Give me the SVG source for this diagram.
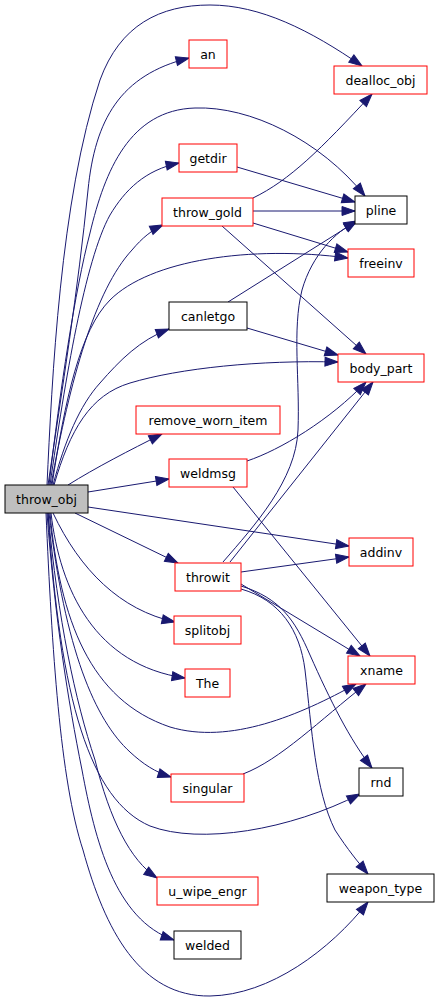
<svg xmlns="http://www.w3.org/2000/svg" width="440" height="1002" viewBox="0 0 440 1002">
<style>
.n rect{fill:#ffffff;stroke:#ff0000;stroke-width:1}
.n.b rect{stroke:#000000}
.n.root rect{fill:#bfbfbf;stroke:#000000}
.n text{font-family:"DejaVu Sans",sans-serif;font-size:12.5px;fill:#000000;text-anchor:middle}
#edges path{fill:none;stroke:#191970;stroke-width:1;marker-end:url(#arr)}
</style>
<defs>
<marker id="arr" markerUnits="userSpaceOnUse" markerWidth="14" markerHeight="10" refX="13" refY="4.5" orient="auto" overflow="visible">
<path d="M0,0 L13,4.5 L0,9 z" fill="#191970" stroke="#191970" stroke-width="1"/>
</marker>
</defs>
<rect width="440" height="1002" fill="#ffffff"/>
<g id="edges">
<path d="M47,485 C52,380 60,200 100,80 C120,25 160,5 210,5 C260,5 310,30 362,66"/>
<path d="M48,485 C62,390 78,290 88,190 C95,120 120,75 189,58"/>
<path d="M49,485 C60,390 75,290 90,233 C105,170 130,110 195,108 C250,106 320,140 365,196"/>
<path d="M50,485 C65,380 85,260 110,215 C125,190 145,170 179,163"/>
<path d="M51,485 C70,380 95,290 132,250 C142,238 152,230 163,225"/>
<path d="M52,485 C65,400 80,330 110,300 C150,260 250,245 348,258"/>
<path d="M53,485 C65,440 80,405 100,383 C120,360 140,340 169,329"/>
<path d="M54,485 C70,430 90,395 130,383 C180,368 260,360 338,362"/>
<path d="M68,485 C95,468 130,450 162,434"/>
<path d="M88,492 L169,479"/>
<path d="M88,507 L349,546"/>
<path d="M75,513 L178,563"/>
<path d="M53,513 C80,570 120,610 175,622"/>
<path d="M51,513 C60,590 95,665 185,678"/>
<path d="M50,513 C60,620 90,700 170,727 C230,745 300,715 356,684"/>
<path d="M49,513 C65,650 95,720 130,752 C143,764 155,772 171,777"/>
<path d="M48,513 C60,700 90,800 150,826 C200,845 290,830 360,794"/>
<path d="M48,513 C58,620 75,700 95,760 C110,820 130,860 157,878"/>
<path d="M47,513 C55,620 68,700 82,770 C95,840 115,920 174,940"/>
<path d="M46,513 C52,650 60,780 83,850 C105,930 140,997 210,996 C270,995 330,950 368,902"/>
<path d="M253,198 C290,180 320,150 372,94"/>
<path d="M237,167 L355,202"/>
<path d="M253,211 L355,211"/>
<path d="M253,223 L348,252"/>
<path d="M222,226 L366,354"/>
<path d="M228,302 L357,221"/>
<path d="M247,328 L338,355"/>
<path d="M247,461 C280,450 330,420 366,382"/>
<path d="M230,562 L373,382"/>
<path d="M223,562 C255,525 296,480 298,430 C300,380 292,330 302,290 C312,255 335,232 357,221"/>
<path d="M241,572 L349,557"/>
<path d="M241,584 L360,656"/>
<path d="M233,487 L370,656"/>
<path d="M241,586 C280,598 295,620 310,655 C330,700 350,740 372,768"/>
<path d="M241,589 C280,600 300,630 305,670 C312,730 315,790 335,830 C348,850 358,862 368,874"/>
<path d="M243,774 C280,760 320,720 366,684"/>
</g>
<g id="throw_obj" class="n root"><rect x="5" y="485" width="83" height="28"/><text x="46.5" y="503.5">throw_obj</text></g>
<g id="an" class="n"><rect x="189" y="40" width="38" height="28"/><text x="208" y="58.5">an</text></g>
<g id="dealloc_obj" class="n"><rect x="334" y="66" width="93" height="28"/><text x="380.5" y="84.5">dealloc_obj</text></g>
<g id="getdir" class="n"><rect x="179" y="144" width="58" height="28"/><text x="208" y="162.5">getdir</text></g>
<g id="throw_gold" class="n"><rect x="162" y="198" width="91" height="28"/><text x="207.5" y="216.5">throw_gold</text></g>
<g id="pline" class="n b"><rect x="355" y="196" width="52" height="28"/><text x="381" y="214.5">pline</text></g>
<g id="freeinv" class="n"><rect x="348" y="249" width="66" height="28"/><text x="381" y="267.5">freeinv</text></g>
<g id="canletgo" class="n b"><rect x="169" y="302" width="78" height="28"/><text x="208" y="320.5">canletgo</text></g>
<g id="body_part" class="n"><rect x="338" y="354" width="86" height="28"/><text x="381" y="372.5">body_part</text></g>
<g id="remove_worn_item" class="n"><rect x="136" y="406" width="144" height="28"/><text x="208" y="424.5">remove_worn_item</text></g>
<g id="weldmsg" class="n"><rect x="169" y="459" width="78" height="28"/><text x="208" y="477.5">weldmsg</text></g>
<g id="addinv" class="n"><rect x="349" y="538" width="64" height="28"/><text x="381" y="556.5">addinv</text></g>
<g id="throwit" class="n"><rect x="175" y="563" width="66" height="28"/><text x="208" y="581.5">throwit</text></g>
<g id="splitobj" class="n"><rect x="174" y="616" width="67" height="28"/><text x="207.5" y="634.5">splitobj</text></g>
<g id="The" class="n"><rect x="185" y="669" width="45" height="28"/><text x="207.5" y="687.5">The</text></g>
<g id="xname" class="n"><rect x="348" y="656" width="67" height="28"/><text x="381.5" y="674.5">xname</text></g>
<g id="rnd" class="n b"><rect x="359" y="768" width="44" height="28"/><text x="381" y="786.5">rnd</text></g>
<g id="singular" class="n"><rect x="171" y="774" width="73" height="28"/><text x="207.5" y="792.5">singular</text></g>
<g id="weapon_type" class="n b"><rect x="327" y="874" width="107" height="28"/><text x="380.5" y="892.5">weapon_type</text></g>
<g id="u_wipe_engr" class="n"><rect x="157" y="877" width="101" height="28"/><text x="207.5" y="895.5">u_wipe_engr</text></g>
<g id="welded" class="n b"><rect x="174" y="931" width="67" height="28"/><text x="207.5" y="949.5">welded</text></g>
</svg>
